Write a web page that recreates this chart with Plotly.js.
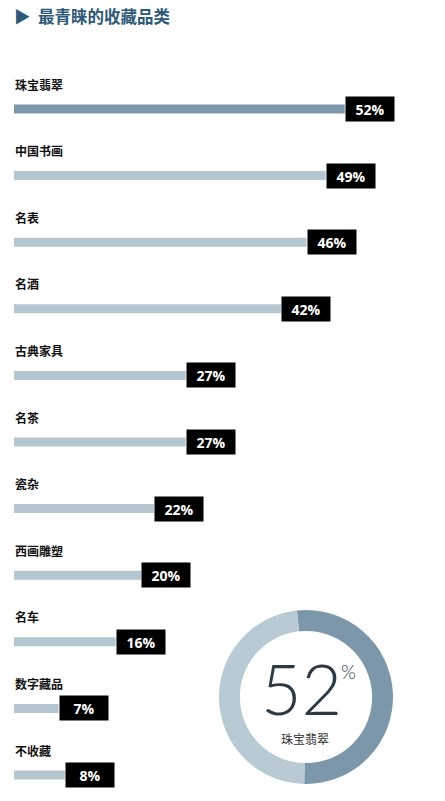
<!DOCTYPE html>
<html>
<head>
<meta charset="utf-8">
<script src="https://cdn.plot.ly/plotly-3.0.1.min.js"></script>
<style>
  html, body { margin: 0; padding: 0; background: #fff; }
  #chart { width: 445px; height: 801px; }
</style>
</head>
<body>
<div id="chart"></div>
<script>
// share of respondents naming each category as their favourite collectible
const categories = ["珠宝翡翠", "中国书画", "名表", "名酒", "古典家具", "名茶", "瓷杂", "西画雕塑", "名车", "数字藏品", "不收藏"];
const shares = [52, 49, 46, 42, 27, 27, 22, 20, 16, 7, 8];

// ring on the lower right: top category vs the rest
const ringLabels = ["珠宝翡翠", "其他"];
const ringValues = [52, 48];

const DARK = "#7b97a9";
const LIGHT = "#b4c6d0";
const CJK = "'Noto Sans CJK SC', 'Noto Sans', sans-serif";

const W = 445, H = 801;
const pxPerPct = 6.36;
const x0px = 14;
const rowTop = 109, rowGap = 66.6;

const barColors = shares.map((_, i) => (i === 0 ? DARK : LIGHT));

const barTrace = {
  type: "bar",
  orientation: "h",
  x: shares,
  y: categories,
  width: 9 / rowGap,
  marker: { color: barColors },
  hoverinfo: "skip",
};

const ringTrace = {
  type: "pie",
  labels: ringLabels,
  values: ringValues,
  hole: 0.76,
  sort: false,
  direction: "clockwise",
  rotation: -6,
  textinfo: "none",
  hoverinfo: "skip",
  showlegend: false,
  marker: { colors: [DARK, "#b8cad4"], line: { width: 0 } },
  domain: {
    x: [(306 - 87) / W, (306 + 87) / W],
    y: [(H - 697 - 87) / H, (H - 697 + 87) / H],
  },
};

const nameNotes = categories.map((c) => ({
  x: 0,
  y: c,
  xref: "x",
  yref: "y",
  text: "<b>" + c + "</b>",
  showarrow: false,
  xanchor: "left",
  yanchor: "middle",
  xshift: -1,
  yshift: 25,
  font: { family: CJK, size: 12, color: "#111" },
}));

const pctNotes = shares.map((v, i) => ({
  x: v,
  y: categories[i],
  xref: "x",
  yref: "y",
  text: "<b>" + v + "%</b>",
  showarrow: false,
  xanchor: "left",
  yanchor: "middle",
  width: 46,
  height: 22,
  borderpad: 1,
  bgcolor: "#000",
  font: { family: "'Open Sans', 'Noto Sans', sans-serif", size: 14, color: "#fff" },
}));

const ringNotes = [
  {
    x: 301 / W, y: 1 - 688 / H, xref: "paper", yref: "paper",
    text: String(ringValues[0]), showarrow: false,
    xanchor: "center", yanchor: "middle",
    font: { family: "Lato, 'DejaVu Sans', sans-serif", size: 70, weight: 300, color: "#2b3a45" },
  },
  {
    x: 348 / W, y: 1 - 671 / H, xref: "paper", yref: "paper",
    text: "%", showarrow: false,
    xanchor: "center", yanchor: "middle",
    font: { family: "Lato, 'DejaVu Sans', sans-serif", size: 19, weight: 300, color: "#2b3a45" },
  },
  {
    x: 305 / W, y: 1 - 738 / H, xref: "paper", yref: "paper",
    text: ringLabels[0], showarrow: false,
    xanchor: "center", yanchor: "middle",
    font: { family: CJK, size: 12, color: "#333" },
  },
];

const layout = {
  width: W,
  height: H,
  margin: { l: 0, r: 0, t: 0, b: 0 },
  paper_bgcolor: "#fff",
  plot_bgcolor: "#fff",
  showlegend: false,
  title: {
    text: "▶  最青睐的收藏品类",
    x: 14 / W,
    xanchor: "left",
    y: 1 - 17 / H,
    yanchor: "middle",
    font: { family: CJK, size: 16.5, weight: 700, color: "#2d5876" },
  },
  xaxis: {
    range: [-x0px / pxPerPct, (W - x0px) / pxPerPct],
    visible: false,
    fixedrange: true,
  },
  yaxis: {
    type: "category",
    categoryorder: "array",
    categoryarray: categories,
    range: [(H - rowTop) / rowGap, -rowTop / rowGap],
    visible: false,
    fixedrange: true,
  },
  annotations: [...nameNotes, ...pctNotes, ...ringNotes],
};

Plotly.newPlot("chart", [barTrace, ringTrace], layout, { displayModeBar: false, staticPlot: true });
</script>
</body>
</html>
